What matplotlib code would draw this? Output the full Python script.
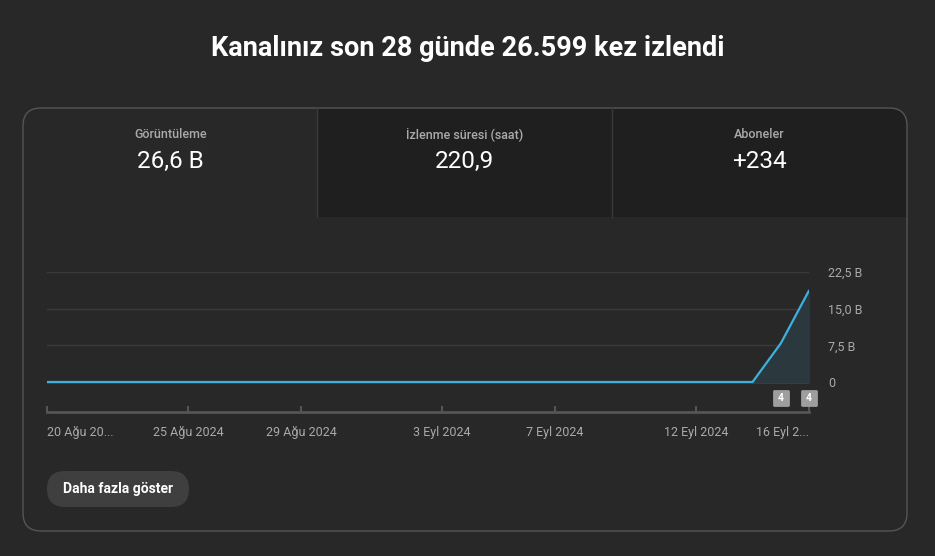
import matplotlib
matplotlib.use("Agg")
import matplotlib.pyplot as plt
from matplotlib.patches import FancyBboxPatch, Rectangle
from matplotlib.markers import MarkerStyle

plt.rcParams['font.family'] = ['Roboto', 'DejaVu Sans']

# daily views (thousands, "B" = bin) from 20 Aug to 16 Sep 2024
days = list(range(28))
views = [0, 0, 0, 0, 0, 0, 0, 0, 0, 0, 0, 0, 0, 0,
         0, 0, 0, 0, 0, 0, 0, 0, 0, 0, 0, 0, 7.9, 18.7]
tick_days = [0, 5, 9, 14, 18, 23, 27]
tick_labels = ["20 Ağu 20...", "25 Ağu 2024", "29 Ağu 2024", "3 Eyl 2024",
               "7 Eyl 2024", "12 Eyl 2024", "16 Eyl 2..."]
y_ticks = [0, 7.5, 15, 22.5]
y_labels = ["0", "7,5 B", "15,0 B", "22,5 B"]
badge_days = [26, 27]
badge_text = ["4", "4"]

tab_names = ["Görüntüleme", "İzlenme süresi (saat)", "Aboneler"]
tab_values = ["26,6 B", "220,9", "+234"]
title = "Kanalınız son 28 günde 26.599 kez izlendi"

BG = "#282828"
W, H = 935, 556
fig = plt.figure(figsize=(W / 100, H / 100), dpi=100, facecolor=BG)

# background layer in pixel coords
bg = fig.add_axes([0, 0, 1, 1])
bg.set_xlim(0, W)
bg.set_ylim(H, 0)
bg.axis("off")

bg.text(W / 2, 48, title, ha="center", va="center", color="white",
        fontsize=19.5, fontweight="bold")

card = FancyBboxPatch((23, 108), 884, 423, boxstyle="round,pad=0,rounding_size=18",
                      fc=BG, ec="none")
bg.add_patch(card)
# darker unselected tabs (only top-right corner rounded)
bg.add_patch(FancyBboxPatch((317, 108), 590, 109, boxstyle="round,pad=0,rounding_size=18",
                            fc="#1f1f1f", ec="none"))
bg.add_patch(Rectangle((317, 108), 560, 109, fc="#1f1f1f", ec="none"))
bg.add_patch(Rectangle((317, 140), 590, 77, fc="#1f1f1f", ec="none"))
for xd in [317, 612]:
    bg.plot([xd, xd], [108, 217], color="#3a3a3a", lw=1)
bg.add_patch(FancyBboxPatch((23, 108), 884, 423, boxstyle="round,pad=0,rounding_size=18",
                            fc="none", ec="#555555", lw=1))

tab_w = 884 / 3
for i, (name, val) in enumerate(zip(tab_names, tab_values)):
    cx = 23 + tab_w * (i + 0.5)
    bg.text(cx, 134, name, ha="center", va="center", color="#aaaaaa", fontsize=9,
            fontweight="medium")
    bg.text(cx, 161, val, ha="center", va="center", color="white", fontsize=17.5)

bg.add_patch(FancyBboxPatch((47, 471), 142, 36, boxstyle="round,pad=0,rounding_size=18",
                            fc="#3f3f3f", ec="none"))
bg.text(118, 489, "Daha fazla göster", ha="center", va="center", color="white",
        fontsize=10, fontweight="bold")

# chart
ax = fig.add_axes([47 / W, 1 - 412 / H, (809 - 47) / W, (412 - 272) / H])
ax.set_facecolor("none")
ax.set_xlim(0, 27)
ax.set_ylim(-30 / (110 / 22.5), 22.5)
for s in ["top", "left", "right"]:
    ax.spines[s].set_visible(False)
ax.spines["bottom"].set_color("#555555")
ax.spines["bottom"].set_linewidth(2)

for yv in y_ticks[1:]:
    ax.axhline(yv, color="#3a3a3a", lw=1, zorder=1)
ax.axhline(0, color="#9a9a9a", lw=1, zorder=1)

ax.fill_between(days, views, 0, color="#2b393f", zorder=2)
ax.plot(days, views, color="#3eb0dc", lw=1.6, zorder=3, solid_capstyle="round")

ax.set_xticks(tick_days)
ax.set_xticklabels(tick_labels)
ax.tick_params(axis="x", direction="in", length=4, width=1.5, color="#555555",
               labelcolor="#aaaaaa", labelsize=9, pad=10)
xl = ax.get_xticklabels()
xl[0].set_ha("left")
xl[-1].set_ha("right")

ax.yaxis.tick_right()
ax.set_yticks(y_ticks)
ax.set_yticklabels(y_labels)
ax.tick_params(axis="y", length=0, labelcolor="#aaaaaa", labelsize=9, pad=14)

badge = MarkerStyle("s", joinstyle="round")
for d, t in zip(badge_days, badge_text):
    ax.plot(d, -3.3, marker=badge, ms=10, mfc="#9e9e9e", mec="#9e9e9e",
            mew=2, zorder=4, clip_on=False)
    ax.text(d, -3.3, t, ha="center", va="center", color="white", fontsize=7.5,
            fontweight="bold", zorder=5)

fig.savefig("out.png", dpi=100, facecolor=BG)
